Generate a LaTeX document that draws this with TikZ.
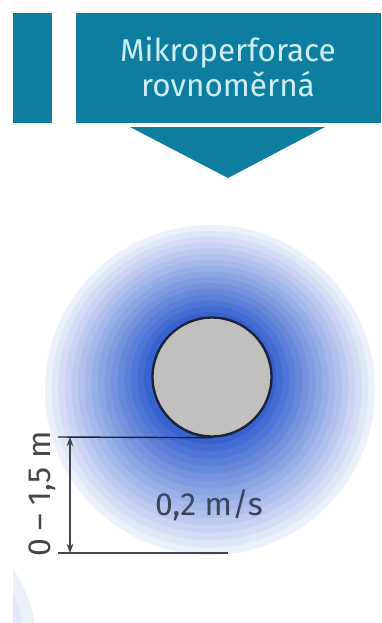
\documentclass[tikz,border=0pt]{standalone}
\usepackage{fontspec}
\setmainfont{Fira Sans}
\usetikzlibrary{arrows.meta,positioning}

\definecolor{headteal}{RGB}{14,126,160}
\definecolor{headtext}{RGB}{205,238,246}
\definecolor{ringblue}{RGB}{48,92,205}
\definecolor{pipegray}{RGB}{194,192,190}
\definecolor{pipeline}{RGB}{26,36,56}
\definecolor{dimgray}{RGB}{70,70,74}
\definecolor{flowtext}{RGB}{58,68,92}

\tikzset{
  headbox/.style={fill=headteal, inner sep=0pt, anchor=north west},
  pipe/.style={circle, fill=pipegray, draw=pipeline, line width=2.4pt, minimum size=119pt, inner sep=0pt},
  dimline/.style={draw=dimgray, line width=1.4pt},
}

\begin{document}
\begin{tikzpicture}[x=1pt, y=-1pt, >=Stealth, line join=round]
    \useasboundingbox (0,0) rectangle (381,623);
    \fill[white] (0,0) rectangle (381,623);

    % header
    \node[headbox, minimum width=39pt, minimum height=110pt] (side) at (13,13) {};
    \node[headbox, minimum width=305pt, minimum height=110pt] (head) at (76,13) {};
    \node[text=headtext, align=center, font=\fontsize{31.5}{35}\selectfont] (title) at (228,67)
      {Mikroperforace\\rovnoměrná};
    \fill[headteal] (130,127) -- (325,127) -- (228,178) -- cycle;

    % airflow rings
    \foreach \i in {0,...,15} {
      \pgfmathsetmacro\rr{165-\i*6.6}
      \pgfmathsetmacro\pc{9+\i*5.8}
      \pgfmathsetmacro\cy{390-\i*0.8}
      \fill[ringblue!\pc!white] (210,\cy) circle[radius=\rr pt];
    }
    \node[pipe] (duct) at (212,377) {};

    % neighbour fragment
    \begin{scope}
      \clip (13,540) rectangle (381,623);
      \foreach \i in {0,...,5} {
        \pgfmathsetmacro\rr{136-\i*12}
        \pgfmathsetmacro\pc{10+\i*5}
        \fill[ringblue!\pc!white] (-99.5,645.5) circle[radius=\rr pt];
      }
    \end{scope}

    % dimension
    \coordinate (dimtop) at (58,437);
    \coordinate (dimbot) at (58,553);
    \coordinate (dimend) at (228,553);
    \coordinate (arrtop) at (70,437);
    \coordinate (arrbot) at (70,553);
    \draw[draw=pipeline, line width=1.4pt] (dimtop) -- (duct.south);
    \draw[dimline] (dimbot) -- (dimend);
    \draw[dimline, <->] (arrtop) -- (arrbot);
    \node[text=dimgray, rotate=90, font=\fontsize{32}{36}\selectfont] (range) at (42,494) {0 – 1,5 m};
    \node[text=flowtext, font=\fontsize{32}{36}\selectfont] (speed) at (209,505) {0,2 m/s};
  \end{tikzpicture}
\end{document}
